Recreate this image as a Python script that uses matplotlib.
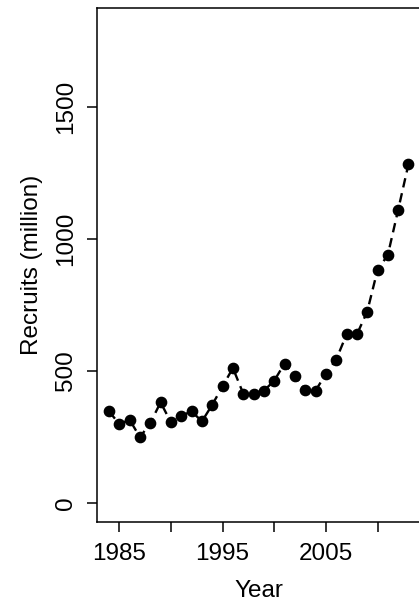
import matplotlib
matplotlib.use("Agg")
import matplotlib.pyplot as plt

plt.rcParams['font.family'] = ['Liberation Sans', 'DejaVu Sans']

years = list(range(1984, 2014))
recruits = [347, 299, 315, 249, 303, 381, 305, 330, 347, 309,
            372, 442, 511, 414, 414, 425, 463, 528, 480, 429,
            425, 489, 543, 638, 638, 724, 882, 939, 1110, 1283]
xticks = [1985, 1990, 1995, 2000, 2005, 2010]
xticklabels = ['1985', '', '1995', '', '2005', '']
yticks = [0, 500, 1000, 1500]

fig = plt.figure(figsize=(4.19, 6.07), dpi=100)
ax = fig.add_axes([0.2315, 0.140, 0.772, 0.846])

ax.plot(years, recruits, color='black', linestyle=(0, (4, 2.5)), linewidth=1.7,
        marker='o', markersize=7.4, markerfacecolor='black', markeredgecolor='black')

ax.set_xlim(1982.84, 2014.16)
ax.set_ylim(-72, 1872)
ax.set_xticks(xticks)
ax.set_xticklabels(xticklabels)
ax.set_yticks(yticks)
ax.set_yticklabels([str(v) for v in yticks], rotation=90, va='center')

ax.tick_params(axis='both', direction='out', length=7.2, width=1.1, labelsize=17.5, colors='black')
ax.tick_params(axis='x', pad=8)
ax.tick_params(axis='y', pad=7)

for s in ax.spines.values():
    s.set_linewidth(1.1)
    s.set_color('black')

ax.set_xlabel('Year', fontsize=17.5, labelpad=11)
ax.set_ylabel('Recruits (million)', fontsize=17.5, labelpad=9)

fig.savefig('out.png', dpi=100)
